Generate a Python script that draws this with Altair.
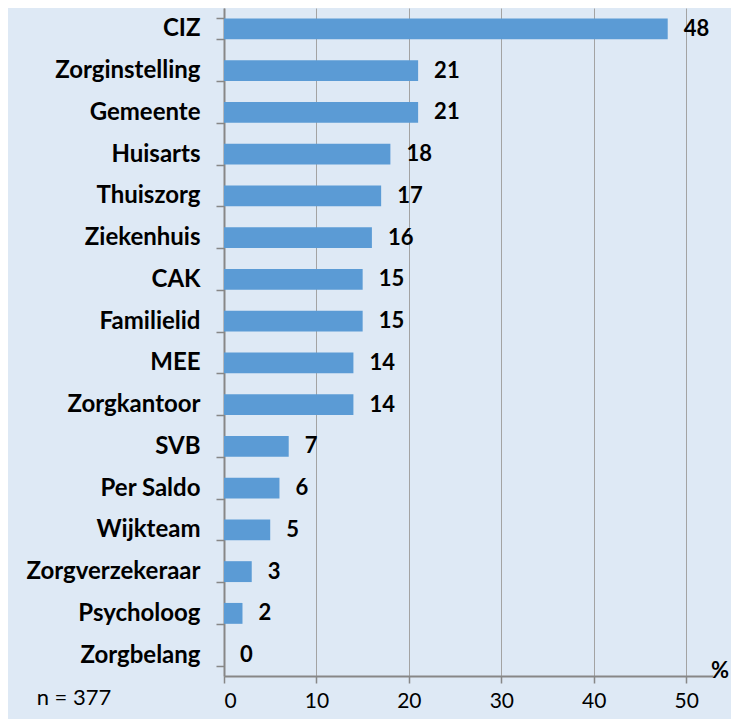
import altair as alt
import pandas as pd

categories = ["CIZ", "Zorginstelling", "Gemeente", "Huisarts", "Thuiszorg", "Ziekenhuis",
              "CAK", "Familielid", "MEE", "Zorgkantoor", "SVB", "Per Saldo", "Wijkteam",
              "Zorgverzekeraar\u00a0", "Psycholoog", "Zorgbelang"]
values = [48, 21, 21, 18, 17, 16, 15, 15, 14, 14, 7, 6, 5, 3, 2, 0]
x_ticks = [0, 10, 20, 30, 40, 50]

df = pd.DataFrame({"cat": categories, "val": values})

FONT = "Lato"
BG = "#dee9f5"
AXIS_GRAY = "#878787"

x_scale = alt.Scale(domain=[0, 52.9], nice=False, zero=True)
y_scale = alt.Scale(domain=categories, paddingInner=0.5, paddingOuter=0.25)

base = alt.Chart(df)

bars = base.mark_bar(color="#5b9bd5").encode(
    x=alt.X("val:Q", scale=x_scale, axis=alt.Axis(
        values=x_ticks, grid=True, gridColor="#a3a3a3", gridWidth=1,
        domainColor=AXIS_GRAY, domainWidth=2, tickColor=AXIS_GRAY, tickSize=7,
        tickWidth=1.5, labelFontSize=21, labelFont=FONT, labelColor="#000000",
        labelPadding=7, title=None)),
    y=alt.Y("cat:N", scale=y_scale, sort=categories, axis=alt.Axis(
        title=None, labelFont=FONT, labelFontSize=24, labelFontWeight="bold",
        labelColor="#000000", labelPadding=16, tickColor=AXIS_GRAY, tickSize=8,
        tickWidth=1.5, tickBand="extent", domainColor=AXIS_GRAY, domainWidth=2,
        labelLimit=400)),
)

labels = base.mark_text(align="left", baseline="middle", dx=16, font=FONT,
                        fontSize=22, fontWeight="bold", color="#000000").encode(
    x=alt.X("val:Q", scale=x_scale),
    y=alt.Y("cat:N", scale=y_scale, sort=categories),
    text=alt.Text("val:Q"),
)

pct = alt.Chart(pd.DataFrame({"t": ["%"]})).mark_text(
    align="center", baseline="middle", font=FONT, fontSize=22, fontWeight="bold",
    color="#000000").encode(x=alt.value(496), y=alt.value(663), text="t:N")

ntext = alt.Chart(pd.DataFrame({"t": ["n = 377"]})).mark_text(
    align="center", baseline="middle", font=FONT, fontSize=22,
    color="#000000").encode(x=alt.value(-150), y=alt.value(690), text="t:N")

chart = alt.layer(bars, labels, pct, ntext).properties(
    width=489, height=668, background=BG,
    autosize=alt.AutoSizeParams(type="none"),
    padding={"left": 216, "top": 0, "right": 18, "bottom": 43},
).configure_view(stroke=None)

chart.save("out.html", embed_options={"renderer": "svg", "actions": False})
